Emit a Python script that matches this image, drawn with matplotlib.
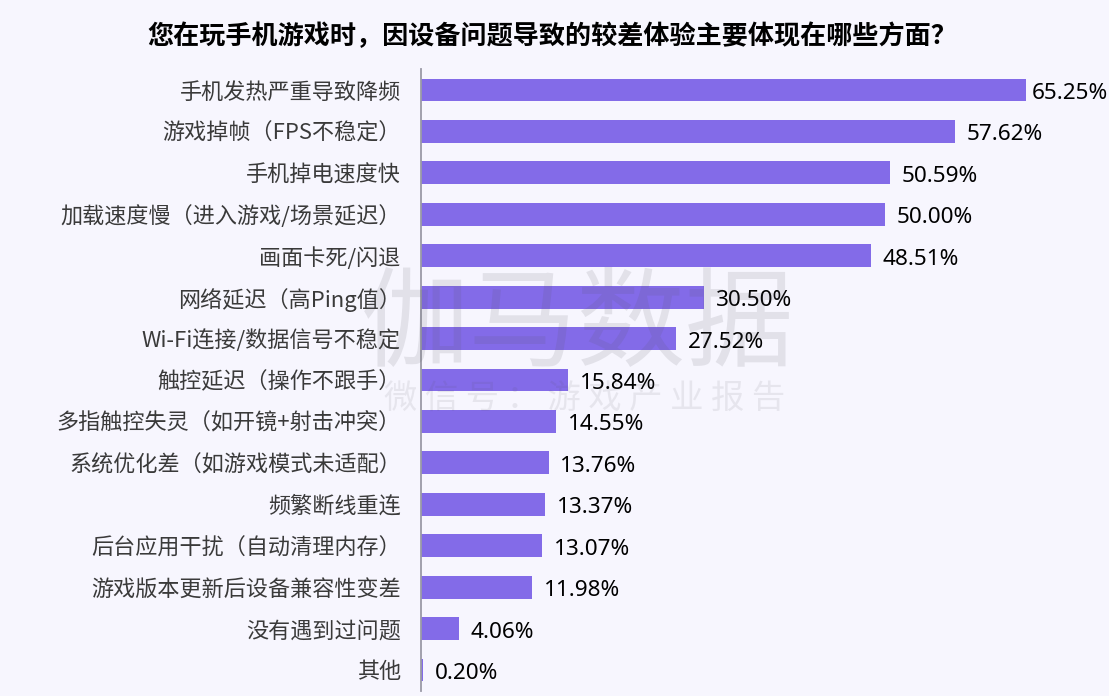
import matplotlib
matplotlib.use("Agg")
import matplotlib.pyplot as plt

plt.rcParams['font.family'] = ['Noto Sans CJK SC', 'DejaVu Sans']

title = "您在玩手机游戏时，因设备问题导致的较差体验主要体现在哪些方面？"

categories = [
    "手机发热严重导致降频",
    "游戏掉帧（FPS不稳定）",
    "手机掉电速度快",
    "加载速度慢（进入游戏/场景延迟）",
    "画面卡死/闪退",
    "网络延迟（高Ping值）",
    "Wi-Fi连接/数据信号不稳定",
    "触控延迟（操作不跟手）",
    "多指触控失灵（如开镜+射击冲突）",
    "系统优化差（如游戏模式未适配）",
    "频繁断线重连",
    "后台应用干扰（自动清理内存）",
    "游戏版本更新后设备兼容性变差",
    "没有遇到过问题",
    "其他",
]
values = [65.25, 57.62, 50.59, 50.00, 48.51, 30.50, 27.52, 15.84,
          14.55, 13.76, 13.37, 13.07, 11.98, 4.06, 0.20]

bg = '#F7F6FE'
W, H = 1109, 696

fig = plt.figure(figsize=(W / 100, H / 100), dpi=100, facecolor=bg)
ax = fig.add_axes([421 / W, 1 - 691 / H, (W - 421) / W, 622 / H], facecolor=bg)

ypos = list(range(len(categories)))
ax.barh(ypos, values, height=0.55, color='#836BE8', zorder=2)
ax.set_xlim(0, 74.2)
ax.set_ylim(14.507, -0.507)

ax.set_yticks(ypos)
ax.set_yticklabels(categories, fontsize=15.9, color='#3A3A3A', fontweight='light')
ax.tick_params(axis='y', length=0, pad=14.5)
ax.set_xticks([])

for s in ['top', 'right', 'bottom']:
    ax.spines[s].set_visible(False)
ax.spines['left'].set_color('#9A9AA6')
ax.spines['left'].set_linewidth(1.3)
ax.spines['left'].set_zorder(4)

for y, v in zip(ypos, values):
    # the longest bar leaves little room, its label sits closer
    pad = 4.3 if v > 60 else 8.5
    ax.annotate(f"{v:.2f}%", (v, y), xytext=(pad, -0.7), textcoords='offset points',
                va='center_baseline', ha='left', fontsize=16.2, color='black',
                family=['Noto Sans', 'DejaVu Sans'], zorder=5)

fig.text(552 / W, 1 - 37 / H, title, ha='center', va='center', fontsize=18.8,
         fontweight='bold', color='black')

# watermark sits over the bars
fig.text(578 / W, 1 - 328 / H, "伽马数据", ha='center', va='center', fontsize=78,
         color='#55555F', alpha=0.13, zorder=10)
fig.text(585 / W, 1 - 398 / H, " ".join("微信号：游戏产业报告"), ha='center', va='center',
         fontsize=24, color='#55555F', alpha=0.10, zorder=10)

fig.savefig('out.png', dpi=100, facecolor=bg)
